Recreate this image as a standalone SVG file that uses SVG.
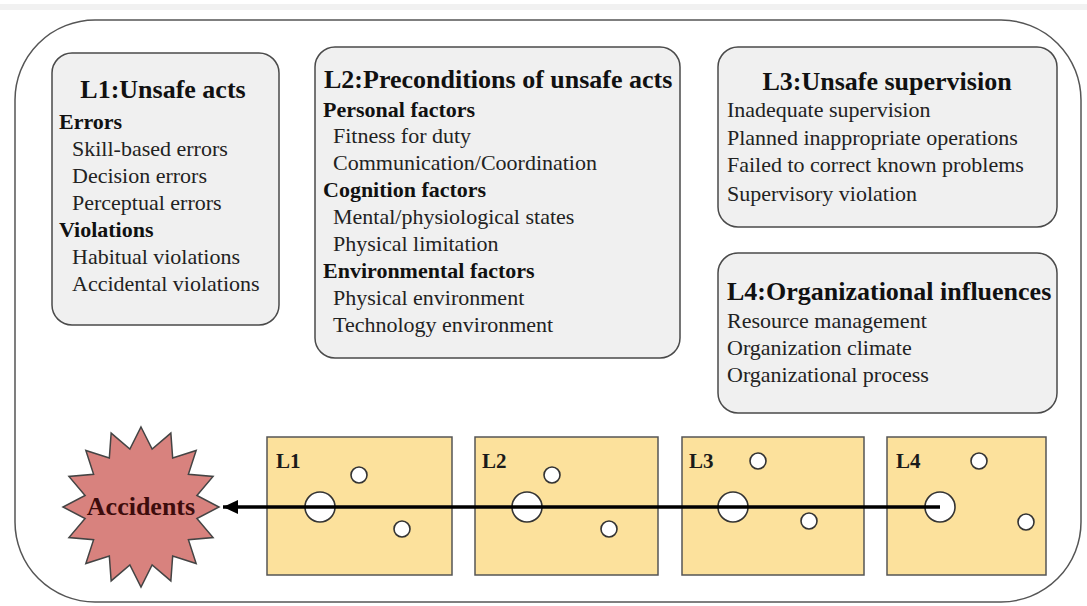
<svg xmlns="http://www.w3.org/2000/svg" width="1087" height="606" viewBox="0 0 1087 606">
<defs>
<style>
.t{font-family:"Liberation Serif","Times New Roman",serif}
.title{font-size:26px;font-weight:bold;fill:#111}
.h{font-size:22px;font-weight:bold;fill:#111}
.b{font-size:22px;fill:#222}
.box{fill:#f0f0f0;stroke:#4a4a4a;stroke-width:1.5}
.slice{fill:#fce19c;stroke:#555;stroke-width:1.5}
.hole{fill:#fff;stroke:#333;stroke-width:1.6}
.lbl{font-size:21px;font-weight:bold;fill:#1a1a1a}
</style>
<marker id="ah" markerWidth="16" markerHeight="14" refX="15" refY="7" orient="auto" markerUnits="userSpaceOnUse">
<path d="M0,0 L15,7 L0,14 Z" fill="#000"/>
</marker>
</defs>
<rect x="0" y="0" width="1087" height="606" fill="#fff"/>
<rect x="0" y="4" width="1087" height="6" fill="#f1f1f1"/>
<rect id="frame" x="15" y="20" width="1066" height="582" rx="80" ry="80" fill="#fff" stroke="#555" stroke-width="1.5"/>

<g id="L1box">
<rect class="box" x="52" y="53" width="227" height="272" rx="20"/>
<text class="t title" x="163" y="98" text-anchor="middle">L1:Unsafe acts</text>
<text class="t h" x="59" y="129">Errors</text>
<text class="t b" x="72" y="156">Skill-based errors</text>
<text class="t b" x="72" y="183">Decision errors</text>
<text class="t b" x="72" y="210">Perceptual errors</text>
<text class="t h" x="59" y="237">Violations</text>
<text class="t b" x="72" y="264">Habitual violations</text>
<text class="t b" x="72" y="291">Accidental violations</text>
</g>

<g id="L2box">
<rect class="box" x="315" y="47" width="365" height="311" rx="20"/>
<text class="t title" x="324" y="88">L2:Preconditions of unsafe acts</text>
<text class="t h" x="323" y="117">Personal factors</text>
<text class="t b" x="333" y="143">Fitness for duty</text>
<text class="t b" x="333" y="170">Communication/Coordination</text>
<text class="t h" x="323" y="197">Cognition factors</text>
<text class="t b" x="333" y="224">Mental/physiological states</text>
<text class="t b" x="333" y="251">Physical limitation</text>
<text class="t h" x="323" y="278">Environmental factors</text>
<text class="t b" x="333" y="305">Physical environment</text>
<text class="t b" x="333" y="332">Technology environment</text>
</g>

<g id="L3box">
<rect class="box" x="718" y="47" width="339" height="180" rx="20"/>
<text class="t title" x="887" y="90" text-anchor="middle">L3:Unsafe supervision</text>
<text class="t b" x="727" y="117">Inadequate supervision</text>
<text class="t b" x="727" y="145">Planned inappropriate operations</text>
<text class="t b" x="727" y="172">Failed to correct known problems</text>
<text class="t b" x="727" y="201">Supervisory violation</text>
</g>

<g id="L4box">
<rect class="box" x="718" y="253" width="339" height="160" rx="20"/>
<text class="t title" x="727" y="300">L4:Organizational influences</text>
<text class="t b" x="727" y="328">Resource management</text>
<text class="t b" x="727" y="355">Organization climate</text>
<text class="t b" x="727" y="382">Organizational process</text>
</g>

<g id="accidents">
<polygon points="141,427 152.12,449.13 170.85,433.09 172.67,457.94 196.15,450.43 188.4,474.22 213.06,476.38 196.91,495.49 219,507 196.91,518.51 213.06,537.62 188.4,539.78 196.15,563.57 172.67,556.06 170.85,580.91 152.12,564.87 141,587 129.88,564.87 111.15,580.91 109.33,556.06 85.85,563.57 93.6,539.78 68.94,537.62 85.09,518.51 63,507 85.09,495.49 68.94,476.38 93.6,474.22 85.85,450.43 109.33,457.94 111.15,433.09 129.88,449.13" fill="#d8827e" stroke="#444" stroke-width="1.5"/>
<text class="t" x="141" y="515" text-anchor="middle" font-size="26" font-weight="bold" fill="#3d0c0c">Accidents</text>
</g>

<g id="slice1">
<rect class="slice" x="267" y="437" width="185" height="138"/>
<text class="t lbl" x="276" y="468">L1</text>
<circle class="hole" cx="320" cy="507" r="15"/>
<circle class="hole" cx="359" cy="475" r="8"/>
<circle class="hole" cx="402" cy="529" r="8"/>
</g>
<g id="slice2">
<rect class="slice" x="475" y="437" width="183" height="138"/>
<text class="t lbl" x="482" y="468">L2</text>
<circle class="hole" cx="527" cy="507" r="15"/>
<circle class="hole" cx="552" cy="475" r="8"/>
<circle class="hole" cx="609" cy="529" r="8"/>
</g>
<g id="slice3">
<rect class="slice" x="682" y="437" width="182" height="138"/>
<text class="t lbl" x="689" y="468">L3</text>
<circle class="hole" cx="733" cy="507" r="15"/>
<circle class="hole" cx="758" cy="461" r="8"/>
<circle class="hole" cx="809" cy="521" r="8"/>
</g>
<g id="slice4">
<rect class="slice" x="887" y="437" width="159" height="138"/>
<text class="t lbl" x="896" y="468">L4</text>
<circle class="hole" cx="940" cy="507" r="15"/>
<circle class="hole" cx="979" cy="461" r="8"/>
<circle class="hole" cx="1026" cy="522" r="8"/>
</g>

<g id="connectors">
<line x1="940" y1="507" x2="223" y2="507" stroke="#000" stroke-width="3.5" marker-end="url(#ah)"/>
</g>
</svg>
